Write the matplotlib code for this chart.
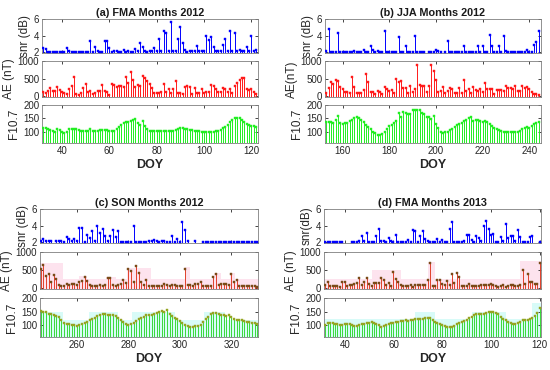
import numpy as np
import matplotlib
matplotlib.use('Agg')
import matplotlib.pyplot as plt

plt.rcParams['font.family'] = ['Liberation Sans', 'DejaVu Sans']
nan = np.nan

# ---------------- Panel (a) FMA 2012 (DOY 32..122) ----------------
a_start = 32
a_snr = [2.5, 2.4, 2.0, 2.0, 2.0, 2.0, 2.0, 2.0, 2.0, 2.0,
         2.5, 2.1, 2.0, 2.0, 2.0, 2.0, 2.0, 2.0, 2.0, 2.0,
         3.3, 2.0, 2.6, 2.1, 2.0, 2.0, 3.3, 3.3, 2.5, 2.0,
         2.2, 2.1, 2.0, 2.0, 2.3, 2.0, 2.2, 2.0, 2.0, 2.4,
         2.1, 3.1, 2.6, 2.2, 2.0, 2.1, 2.2, 2.5, 2.1, 3.6,
         2.1, 4.5, 4.3, 2.1, 5.6, 2.1, 2.1, 3.6, 5.0, 3.1,
         2.3, 2.0, 2.1, 2.1, 2.1, 2.7, 2.1, 2.1, 2.1, 3.9,
         3.5, 3.8, 2.6, 2.2, 2.1, 2.1, 2.9, 3.6, 2.1, 4.5,
         2.2, 4.3, 2.1, 2.3, 2.1, 2.1, 2.6, 2.1, 4.0, 2.1,
         2.3]
a_ae = [120, 80, 150, 230, 160, 160, 260, 180, 120, 90,
        60, 220, 290, 560, 70, 50, 90, 240, 340, 130,
        150, 60, 90, 160, 160, 330, 150, 120, 50, 360,
        310, 270, 290, 280, 260, 540, 370, 700, 460, 260,
        320, 290, 580, 520, 440, 350, 240, 100, 100, 100,
        130, 340, 110, 210, 90, 200, 440, 100, 100, 60,
        250, 300, 250, 60, 230, 100, 100, 220, 80, 110,
        110, 320, 300, 220, 120, 110, 240, 200, 130, 210,
        90, 290, 370, 470, 520, 510, 220, 180, 200, 130,
        60]
a_f107 = [115, 114, 108, 105, 103, 100, 110, 106, 97, 96,
          98, 109, 110, 109, 108, 106, 104, 104, 104, 104,
          108, 104, 103, 104, 107, 106, 106, 105, 104, 103,
          104, 110, 118, 126, 133, 135, 137, 141, 145, 148,
          133, 126, 140, 120, 110, 103, 101, 102, 102, 101,
          102, 103, 104, 103, 103, 104, 107, 110, 112, 112,
          110, 108, 106, 105, 104, 103, 101, 99, 97, 97,
          97, 98, 100, 102, 104, 107, 113, 119, 126, 135,
          143, 150, 152, 150, 145, 137, 130, 125, 121, 122,
          118]

# ---------------- Panel (b) JJA 2012 (DOY 153..244) ----------------
b_start = 153
b_snr = [2.1, 4.8, 2.0, 2.0, 2.0, 4.3, 2.0, 2.0, 2.0, 2.0,
         2.0, 2.0, 2.2, 2.0, 2.0, 2.0, 2.3, 2.0, 2.0, 2.8,
         2.3, 2.0, 2.1, 2.0, 2.0, 4.5, 2.0, 2.0, 2.0, 2.0,
         2.0, 3.8, 2.0, 2.0, 2.8, 2.0, 2.0, 2.0, 4.0, 2.0,
         2.0, 2.0, 2.0, nan, 2.0, 2.0, 2.0, 2.3, 2.1, 2.0,
         nan, 2.0, 3.3, 2.0, 2.0, 2.0, 2.0, 2.0, 2.0, 2.8,
         2.0, 2.0, 2.0, 2.0, 2.0, 2.8, 2.0, 2.7, 2.0, 2.0,
         4.1, 2.8, 2.0, 2.0, 2.7, 2.0, 3.9, 2.2, 2.0, 2.0,
         2.0, 2.0, 2.0, 2.0, 2.0, 2.0, 2.3, 2.0, 2.0, 2.9,
         3.2, 4.6]
b_ae = [80, 230, 400, 340, 450, 420, 270, 200, 130, 120,
        100, 540, 250, 100, 90, 80, 180, 630, 410, 130,
        120, 60, 140, 110, 70, 250, 200, 140, 190, 100,
        490, 400, 440, 230, 230, 100, 290, 110, 210, 890,
        320, 300, 300, 110, 280, 900, 730, 460, 130, 150,
        260, 90, 140, 240, 200, 100, 80, 240, 80, 460,
        140, 200, 90, 250, 180, 160, 200, 110, 380, 200,
        200, 200, 70, 170, 180, 180, 140, 300, 230, 230,
        200, 280, 160, 150, 300, 230, 250, 200, 110, 70,
        60, 50]
b_f107 = [135, 135, 135, 133, 145, 158, 132, 128, 132, 133,
          140, 145, 150, 155, 152, 145, 135, 125, 118, 110,
          100, 95, 88, 88, 92, 100, 110, 122, 125, 132,
          140, 170, 155, 172, 170, 165, 168, 180, 182, 180,
          180, 170, 165, 155, 155, 148, 160, 130, 115, 98,
          95, 98, 100, 105, 110, 118, 125, 130, 133, 138,
          143, 150, 155, 140, 145, 143, 140, 135, 138, 135,
          128, 120, 115, 110, 105, 103, 100, 100, 99, 99,
          98, 98, 100, 103, 110, 115, 116, 115, 120, 130,
          133, 135]

# ---------------- Panel (c) SON 2012 (DOY 246..330 shown) ----------------
c_start = 246
c_snr = [2.2, 2.4, 2.1, 2.1, 2.1, nan, 2.1, 2.1, 2.2, 2.0,
         2.6, 2.4, 2.2, 2.4, 2.1, 3.7, 3.7, 2.0, 2.9,
         2.5, 3.3, 2.1, 4.0, 3.1, 3.6, 2.8, 2.1, 2.7,
         3.5, 2.6, 3.3, 2.0, 2.0, 2.0, 2.0, 2.0, 3.9,
         2.0, 2.0, 2.0, 2.0, 2.0, 2.1, 2.1, 2.3, 2.1, 2.0,
         2.1, 2.2, 2.0, 2.0, 2.7, 2.0, 2.4, 2.0, 4.4,
         3.5, 2.2, nan, nan, 2.1, nan, nan, 2.0, 2.0,
         2.0, 2.0, 2.0, 2.0, 2.0, 2.0, 2.0, 2.0, 2.0, 2.0,
         2.0, 2.0, 2.0, 2.0, 2.0, 2.0, 2.0, 2.0, 2.0, 2.0]
c_ae = [520, 640, 340, 380, 160, 360, 260, 100, 60, 60,
        110, 80, 130, 130, 80, 170, 200, 310, 200,
        80, 50, 50, 60, 80, 50, 80, 280, 280,
        80, 60, 80, 110, 220, 140, 520, 480, 180,
        620, 420, 180, 80, 240, 60, 50, 50, 50, 50,
        50, 110, 90, 60, 100, 80, 70, 60, 50,
        540, 80, 80, 60, 110, 130, 160, 50, 50,
        50, 50, 300, 400, 80, 120, 120, 120, 100, 400,
        180, 240, 70, 70, 70, 60, 60, 60, 60,
        40]
c_f107 = [152, 150, 147, 143, 140, 137, 134, 130, 120, 110,
          106, 103, 101, 100, 99, 101, 104, 108, 113,
          118, 122, 128, 133, 138, 143, 141, 138, 138,
          138, 134, 128, 120, 112, 105, 100, 103, 107,
          117, 122, 127, 132, 136, 137, 138, 140, 146, 150,
          154, 148, 156, 140, 134, 128, 122, 116, 108,
          100, 96, 95, 95, 96, 98, 100, 112, 122,
          132, 140, 145, 144, 141, 138, 136, 133, 136, 129,
          122, 119, 120, 118, 116, 113, 112, 110, 108,
          104]
# shaded activity bands: (start DOY, end DOY, top level)
c_ae_bands = [(245.7, 330.5, 250), (245.7, 254.5, 700), (261.0, 263.8, 350),
              (271.2, 275.0, 300), (279.6, 288.9, 560), (301.9, 303.8, 600),
              (313.1, 316.0, 420), (319.6, 321.5, 420)]
c_f_bands = [(245.7, 330.5, 118), (245.7, 254.5, 150), (264.7, 275.9, 150),
             (281.4, 298.2, 150), (309.3, 317.6, 150)]

# ---------------- Panel (d) FMA 2013 (DOY 32..120) ----------------
d_start = 32
d_snr = [2.0, 2.0, 2.0, 2.0, 2.0, 2.0, 2.0, 2.0, nan, nan, nan,
         2.0, 2.0, 2.0, 2.1, 2.7, 2.2, 3.1, 2.0, 2.0, 2.0,
         2.8, 3.6, 2.2, 2.2, 2.0, 2.5, 2.2, 2.0, 2.9, 2.0,
         2.0, 2.0, 2.0, 2.3, 2.0, 3.5, 3.4, 2.0, 2.8, 3.3,
         2.4, 2.2, 2.0, 2.0, 2.0, 2.4, 2.0, 2.3, 2.0, 2.0,
         3.6, 4.4, 2.0, 2.0, 2.0, 2.0, 2.1, 2.9, 2.9, 2.3,
         2.0, 2.7, 2.5, 2.1, 4.0, 4.6, 3.6, 2.9, 3.0, 2.0,
         2.0, 2.6, 2.2, 4.2, 2.5, 2.8, 2.8, 2.2, 3.5, 2.6,
         2.0, 2.0, 2.0, 2.6, 2.8, nan, nan, 2.0]
d_ae = [100, 180, 60, 70, 60, 50, 40, 160, 170, 70,
        100, 80, 130, 150, 270, 80, 180, 290, 120, 60,
        150, 150, 150, 270, 230, 80, 150, 60, 450, 250,
        160, 80, 70, 50, 50, 80, 40, 80, 90, 90,
        90, 90, 220, 700, 50, 70, 230, 230, 110, 80,
        200, 80, 380, 140, 420, 300, 70, 60, 60, 110,
        60, 60, 60, 60, 80, 80, 80, 90, 120, 80,
        60, 40, 50, 80, 40, 50, 80, 100, 70, 60,
        80, 500, 120, 400, 180, 160, 110, 110, 700]
d_f107 = [100, 108, 110, 108, 104, 103, 102, 102, 105, 106,
          104, 100, 99, 98, 100, 103, 103, 107, 110, 112,
          110, 106, 100, 95, 97, 100, 103, 107, 110, 112,
          112, 114, 116, 118, 117, 118, 121, 122, 122, 123,
          124, 125, 125, 127, 120, 112, 108, 104, 100, 98,
          95, 93, 93, 97, 103, 108, 112, 117, 120, 125,
          130, 136, 140, 142, 142, 143, 145, 148, 150, 150,
          145, 140, 132, 124, 118, 113, 108, 104, 103, 108,
          113, 118, 118, 120, 122, 127, 133, 145, 162]
d_ae_bands = [(31.5, 120.5, 250), (51, 63, 500), (74, 77, 720), (112, 120.5, 750)]
d_f_bands = [(31.5, 120.5, 122), (69, 77, 150), (92, 106, 150), (117, 120.5, 180)]

# ------------------------------------------------------------------
W, H = 550, 370
fig = plt.figure(figsize=(W / 100, H / 100), dpi=100)
AXC = '#262626'


def px_axes(l, t, r, b):
    return fig.add_axes([l / W, 1 - b / H, (r - l) / W, (b - t) / H])


def stem(ax, start, vals, ylo, lc, mc, ms=1.6):
    v = np.array(vals, dtype=float)
    x = np.arange(start, start + len(v))
    ok = ~np.isnan(v)
    ax.vlines(x[ok], ylo, v[ok], colors=lc, lw=0.7, zorder=2)
    ax.plot(x[ok], v[ok], 's', ms=ms, color=mc, mec=mc, mew=0.3, zorder=3)


def style(ax, xlim, xticks, ylim, yticks, ylabel, showx):
    ax.set_xlim(*xlim)
    ax.set_ylim(*ylim)
    ax.set_xticks(xticks)
    ax.set_yticks(yticks)
    ax.tick_params(direction='in', length=2.5, width=0.6, top=True, right=True,
                   labelsize=7, colors=AXC, pad=2)
    if not showx:
        ax.set_xticklabels([])
    for s in ax.spines.values():
        s.set_color('#7f7f7f')
        s.set_linewidth(0.6)
    ax.set_ylabel(ylabel, fontsize=8.5, color=AXC, labelpad=2)


def bands(ax, segs, ylo, color):
    for s, e, top in segs:
        ax.fill_between([s, e], [ylo, ylo], [top, top], color=color, lw=0, zorder=0)


panels = [
    dict(l=42, r=258, rows=[(19, 53), (61, 97), (105, 143)], title='(a) FMA Months 2012',
         start=a_start, snr=a_snr, ae=a_ae, f=a_f107, xlim=(31.5, 122.8),
         xt=[40, 60, 80, 100, 120], labs=['snr (dB)', 'AE (nT)', 'F10.7'],
         aec=('#ff1a1a', '#ff1a1a'), fc=('#22ee22', '#22ee22'), aeb=None, fb=None),
    dict(l=325, r=541, rows=[(19, 53), (61, 97), (105, 143)], title='(b) JJA Months 2012',
         start=b_start, snr=b_snr, ae=b_ae, f=b_f107, xlim=(152.5, 245),
         xt=[160, 180, 200, 220, 240], labs=['snr (dB)', 'AE(nT)', 'F10.7'],
         aec=('#ff1a1a', '#ff1a1a'), fc=('#22ee22', '#22ee22'), aeb=None, fb=None),
    dict(l=40, r=258, rows=[(209, 243), (252, 289), (298, 337)], title='(c) SON Months 2012',
         start=c_start, snr=c_snr, ae=c_ae, f=c_f107, xlim=(245.7, 330.3),
         xt=[260, 280, 300, 320], labs=['snr (dB)', 'AE (nT)', 'F10.7'],
         aec=('#e0402a', '#7a4a18'), fc=('#3ad83a', '#95a523'), aeb=c_ae_bands, fb=c_f_bands),
    dict(l=324, r=541, rows=[(209, 243), (252, 289), (298, 337)], title='(d) FMA Months 2013',
         start=d_start, snr=d_snr, ae=d_ae, f=d_f107, xlim=(31.5, 120.5),
         xt=[40, 60, 80, 100, 120], labs=['snr(dB)', 'AE (nT)', 'F10.7'],
         aec=('#e0402a', '#7a4a18'), fc=('#3ad83a', '#95a523'), aeb=d_ae_bands, fb=d_f_bands),
]

for p in panels:
    (t1, b1), (t2, b2), (t3, b3) = p['rows']
    ax1 = px_axes(p['l'], t1, p['r'], b1)
    ax2 = px_axes(p['l'], t2, p['r'], b2)
    ax3 = px_axes(p['l'], t3, p['r'], b3)

    stem(ax1, p['start'], p['snr'], 0, '#0000ff', '#0000ff')
    style(ax1, p['xlim'], p['xt'], (1.9, 6), [2, 4, 6], p['labs'][0], False)
    ax1.set_title(p['title'], fontsize=7.8, fontweight='bold', color='#1a1a1a', pad=2)

    if p['aeb']:
        bands(ax2, p['aeb'], -30, '#fde3ee')
    stem(ax2, p['start'], p['ae'], -30, p['aec'][0], p['aec'][1])
    style(ax2, p['xlim'], p['xt'], (-20, 1000), [0, 500, 1000], p['labs'][1], False)

    if p['fb']:
        bands(ax3, p['fb'], 0, '#d8fbf8')
    stem(ax3, p['start'], p['f'], 0, p['fc'][0], p['fc'][1])
    style(ax3, p['xlim'], p['xt'], (57, 200), [100, 150, 200], p['labs'][2], True)
    ax3.set_xlabel('DOY', fontsize=9, fontweight='bold', color=AXC, labelpad=2)

fig.savefig('out.png', dpi=100)
